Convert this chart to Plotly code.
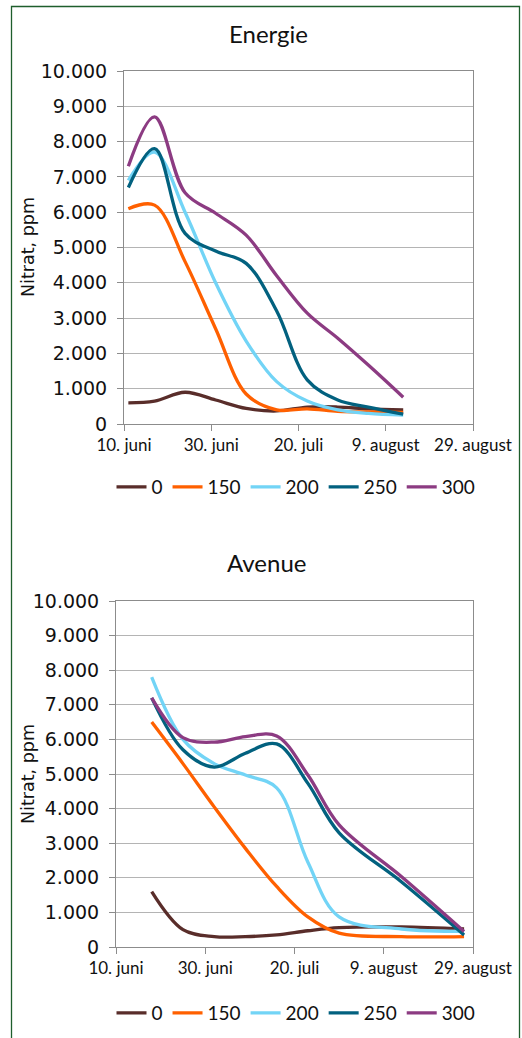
import plotly.graph_objects as go

W, H = 522, 1038

series_names = ["0", "150", "200", "250", "300"]
colors = ["#592d2a", "#ff6000", "#72d4f6", "#02617f", "#8c3b82"]

# Energie
energie_dates = ["2012-06-11", "2012-06-17", "2012-06-24", "2012-07-01", "2012-07-08",
                 "2012-07-15", "2012-07-22", "2012-07-29", "2012-08-05", "2012-08-13"]
energie_0 = [600, 650, 900, 680, 440, 370, 480, 480, 430, 400]
energie_150 = [6100, 6200, 4600, 2700, 850, 400, 430, 360, 340, 330]
energie_200 = [6900, 7700, 6000, 4000, 2350, 1200, 650, 400, 300, 250]
energie_250 = [6700, 7800, 5400, 4900, 4550, 3200, 1250, 680, 480, 280]
energie_300 = [7300, 8700, 6550, 5970, 5350, 4200, 3140, 2430, 1670, 760]

# Avenue
avenue_dates = ["2012-06-18", "2012-06-25", "2012-07-02", "2012-07-09", "2012-07-16",
                "2012-07-23", "2012-07-30", "2012-08-13", "2012-08-27"]
avenue_0 = [1600, 500, 300, 300, 350, 470, 560, 580, 520]
avenue_150 = [6500, 5300, 4050, 2850, 1750, 870, 400, 300, 300]
avenue_200 = [7800, 6000, 5300, 4970, 4600, 2450, 870, 520, 450]
avenue_250 = [7200, 5700, 5200, 5600, 5870, 4730, 3300, 1880, 350]
avenue_300 = [7200, 6050, 5920, 6080, 6100, 4970, 3530, 2030, 450]

tick_dates = ["2012-06-10", "2012-06-30", "2012-07-20", "2012-08-09", "2012-08-29"]
tick_text = ["10. juni", "30. juni", "20. juli", "9. august", "29. august"]
y_vals = [0, 1000, 2000, 3000, 4000, 5000, 6000, 7000, 8000, 9000, 10000]
y_text = ["0", "1.000", "2.000", "3.000", "4.000", "5.000", "6.000", "7.000", "8.000", "9.000", "10.000"]
titles = ["Energie", "Avenue"]
y_title = "Nitrat, ppm"

LAB = "Lato"
NUM = "DejaVu Sans"

fig = go.Figure()

for i, (vals, name) in enumerate(zip([energie_0, energie_150, energie_200, energie_250, energie_300], series_names)):
    fig.add_trace(go.Scatter(x=energie_dates, y=vals, name=name, mode="lines",
                             line=dict(color=colors[i], width=3.3, shape="spline", smoothing=1.0),
                             xaxis="x", yaxis="y", legend="legend"))
for i, (vals, name) in enumerate(zip([avenue_0, avenue_150, avenue_200, avenue_250, avenue_300], series_names)):
    fig.add_trace(go.Scatter(x=avenue_dates, y=vals, name=name, mode="lines",
                             line=dict(color=colors[i], width=3.3, shape="spline", smoothing=1.0),
                             xaxis="x2", yaxis="y2", legend="legend2"))

def px_x(p):
    return p / W

def px_y(p):
    return 1 - p / H

xcommon = dict(type="date", range=["2012-06-10", "2012-08-29"], tickvals=tick_dates, ticktext=tick_text,
               showgrid=False, showline=True, linecolor="#8c8c8c", linewidth=1, mirror=True,
               ticks="outside", ticklen=6, tickcolor="#8c8c8c", tickfont=dict(family=LAB, size=17, color="#111"),
               automargin=False, zeroline=False)
ycommon = dict(range=[0, 10000], tickvals=y_vals, ticktext=y_text, showgrid=True, gridcolor="#b4b4b4",
               gridwidth=1, showline=True, linecolor="#8c8c8c", linewidth=1, mirror=True,
               ticks="outside", ticklen=6, tickcolor="#8c8c8c", tickfont=dict(family=NUM, size=19, color="#111"),
               automargin=False, zeroline=False, ticklabelstandoff=6)

leg = dict(orientation="h", x=px_x(296), xanchor="center", yanchor="middle",
           font=dict(family=LAB, size=19, color="#111"), bgcolor="rgba(0,0,0,0)",
           itemwidth=30, tracegroupgap=0)

fig.update_layout(
    width=W, height=H, margin=dict(l=0, r=0, t=0, b=0),
    paper_bgcolor="white", plot_bgcolor="white", showlegend=True,
    xaxis=dict(domain=[px_x(124), px_x(473)], anchor="y", **xcommon),
    yaxis=dict(domain=[px_y(424), px_y(71)], anchor="x", **ycommon),
    xaxis2=dict(domain=[px_x(116), px_x(473)], anchor="y2", **xcommon),
    yaxis2=dict(domain=[px_y(947), px_y(601)], anchor="x2", **ycommon),
    legend=dict(y=px_y(487), **leg),
    legend2=dict(y=px_y(1013), **leg),
    annotations=[
        dict(text=titles[0], x=px_x(268), y=px_y(34), xref="paper", yref="paper", showarrow=False,
             xanchor="center", yanchor="middle", font=dict(family=LAB, size=24, color="#111")),
        dict(text=titles[1], x=px_x(266), y=px_y(562), xref="paper", yref="paper", showarrow=False,
             xanchor="center", yanchor="middle", font=dict(family=LAB, size=24, color="#111")),
        dict(text=y_title, x=px_x(28), y=px_y(247), xref="paper", yref="paper", showarrow=False,
             textangle=-90, xanchor="center", yanchor="middle", font=dict(family=NUM, size=17.5, color="#111")),
        dict(text=y_title, x=px_x(28), y=px_y(774), xref="paper", yref="paper", showarrow=False,
             textangle=-90, xanchor="center", yanchor="middle", font=dict(family=NUM, size=17.5, color="#111")),
    ],
    shapes=[
        dict(type="rect", xref="paper", yref="paper", x0=px_x(11.5), x1=px_x(519.5), y0=px_y(1060), y1=px_y(6.5),
             line=dict(color="#1e5e2c", width=1.3), fillcolor="rgba(0,0,0,0)", layer="above"),
    ],
)

fig.write_html("out.html", config={"displayModeBar": False},
               post_script="document.body.style.margin='0';document.body.style.overflow='hidden';")
